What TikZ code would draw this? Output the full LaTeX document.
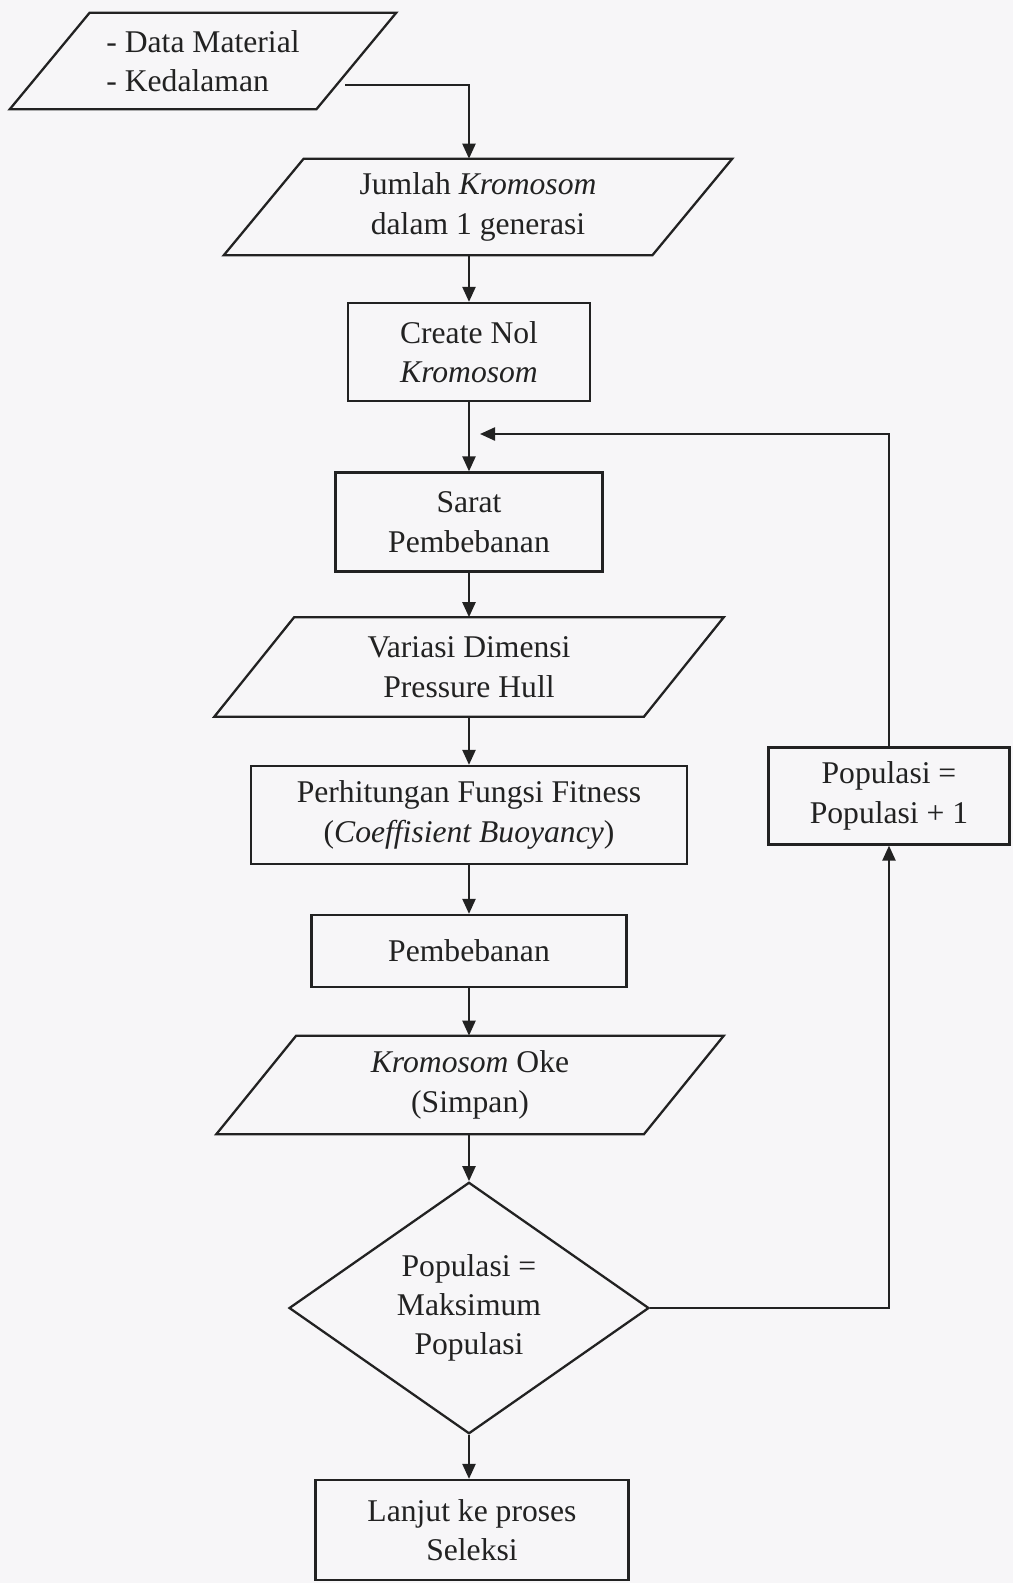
\documentclass[tikz,border=0pt]{standalone}
\usepackage{fontspec}
\setmainfont{Liberation Serif}
\usetikzlibrary{shapes.geometric,arrows.meta}
\definecolor{colorline}{HTML}{222222}
\definecolor{colorpaper}{HTML}{F7F6F8}

\begin{document}
\begin{tikzpicture}[x=0.02cm, y=-0.02cm,
    every node/.style={font=\fontsize{18}{22.4}\selectfont, text=colorline, align=center, inner sep=0pt},
    box/.style={draw=colorline, line width=1.3pt, rectangle},
    dataio/.style={rectangle, append after command={\pgfextra{
        \draw[colorline, line width=1.3pt, line join=miter]
            ([xshift=1.6cm]\tikzlastnode.north west) -- (\tikzlastnode.north east)
            -- ([xshift=-1.6cm]\tikzlastnode.south east) -- (\tikzlastnode.south west) -- cycle;}}},
    decision/.style={draw=colorline, line width=1.3pt, diamond},
    flow/.style={draw=colorline, line width=1.3pt, -{Triangle[length=0.3cm, width=0.26cm]}}]
    \fill[colorpaper] (0,0) rectangle (1013,1583);
    \useasboundingbox (0,0) rectangle (1013,1583);

    \node[dataio, minimum width=7.72cm, minimum height=1.92cm, align=left] (input) at (203,61)
        {- Data Material\\- Kedalaman};
    \node[dataio, minimum width=10.16cm, minimum height=1.92cm] (jumlah) at (478,207)
        {Jumlah \textit{Kromosom}\\dalam 1 generasi};
    \node[box, minimum width=4.84cm, minimum height=1.96cm] (create) at (469,352)
        {Create Nol\\\textit{Kromosom}};
    \node[box, minimum width=5.34cm, minimum height=1.98cm] (sarat) at (469,522)
        {Sarat\\Pembebanan};
    \node[dataio, minimum width=10.18cm, minimum height=1.98cm] (variasi) at (469,667)
        {Variasi Dimensi\\Pressure Hull};
    \node[box, minimum width=8.72cm, minimum height=1.96cm] (fitness) at (469,815)
        {Perhitungan Fungsi Fitness\\(\textit{Coeffisient Buoyancy})};
    \node[box, minimum width=6.3cm, minimum height=1.44cm] (beban) at (469,951)
        {Pembebanan};
    \node[dataio, minimum width=10.14cm, minimum height=1.96cm] (simpan) at (470,1085)
        {\textit{Kromosom} Oke\\(Simpan)};
    \node[decision, minimum width=7.2cm, minimum height=4.84cm] (cek) at (469,1308)
        {Populasi =\\Maksimum\\Populasi};
    \node[box, minimum width=6.26cm, minimum height=2cm] (lanjut) at (472,1530)
        {Lanjut ke proses\\Seleksi};
    \node[box, minimum width=4.82cm, minimum height=1.94cm] (tambah) at (889,796)
        {Populasi =\\Populasi + 1};

    \coordinate (inputout) at (345,85);
    \coordinate (loopin) at (480,434);

    \draw[flow] (inputout) -| (create.north |- jumlah.north);
    \draw[flow] (create.north |- jumlah.south) -- (create.north);
    \draw[flow] (create.south) -- (sarat.north);
    \draw[flow] (sarat.south) -- (variasi.north);
    \draw[flow] (variasi.south) -- (fitness.north);
    \draw[flow] (fitness.south) -- (beban.north);
    \draw[flow] (beban.south) -- (beban.south |- simpan.north);
    \draw[flow] (beban.south |- simpan.south) -- (cek.north);
    \draw[flow] (cek.south) -- (cek.south |- lanjut.north);
    \draw[flow] (cek.east) -| (tambah.south);
    \draw[flow] (tambah.north) |- (loopin);
\end{tikzpicture}
\end{document}
